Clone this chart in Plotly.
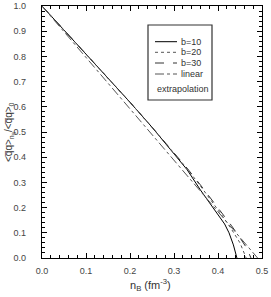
import plotly.graph_objects as go

# ---- data ----
x_b10 = [0.0, 0.05, 0.10, 0.15, 0.20, 0.25, 0.30, 0.33, 0.36, 0.38, 0.40, 0.415, 0.425, 0.435, 0.443]
y_b10 = [1.0, 0.905, 0.810, 0.714, 0.618, 0.519, 0.416, 0.350, 0.270, 0.222, 0.172, 0.135, 0.100, 0.052, 0.0]

x_b20 = [0.0, 0.05, 0.10, 0.15, 0.20, 0.25, 0.30, 0.33, 0.36, 0.39, 0.41, 0.43, 0.45, 0.464]
y_b20 = [1.0, 0.905, 0.810, 0.714, 0.618, 0.519, 0.418, 0.354, 0.286, 0.216, 0.167, 0.116, 0.060, 0.0]

x_b30 = [0.0, 0.05, 0.10, 0.15, 0.20, 0.25, 0.30, 0.33, 0.36, 0.39, 0.41, 0.43, 0.45, 0.465, 0.475]
y_b30 = [1.0, 0.905, 0.810, 0.714, 0.618, 0.519, 0.419, 0.356, 0.290, 0.223, 0.177, 0.130, 0.080, 0.040, 0.0]

x_lin = [0.0, 0.49]
y_lin = [1.0, 0.0]

legend_names = ["b=10", "b=20", "b=30", "linear"]
legend_extra = "extrapolation"

# ---- layout geometry ----
W, H = 271, 297
L, R, T, B = 42, 9, 6, 39
pw, ph = W - L - R, H - T - B

def px2paper(px, py):
    return (px - L) / pw, 1 - (py - T) / ph

styles = [
    dict(color="black", width=1, dash="solid"),
    dict(color="#555555", width=1, dash="dot"),
    dict(color="#333333", width=1, dash="dash"),
    dict(color="#555555", width=1, dash="dashdot"),
]

fig = go.Figure()
for xs, ys, nm, st in zip([x_b10, x_b20, x_b30, x_lin], [y_b10, y_b20, y_b30, y_lin], legend_names, styles):
    fig.add_trace(go.Scatter(x=xs, y=ys, mode="lines", name=nm, line=st, showlegend=False,
                             hoverinfo="skip"))

# manual legend
shapes = []
annotations = []
x0, y0 = px2paper(148, 25)
x1, y1 = px2paper(212, 100)
shapes.append(dict(type="rect", xref="paper", yref="paper", x0=x0, y0=y0, x1=x1, y1=y1,
                   line=dict(color="#333333", width=1.2), fillcolor="white", layer="above"))
rows = [41.7, 52.3, 63.0, 74.0]
for py, nm, st in zip(rows, legend_names, styles):
    a, b = px2paper(155, py)
    c, _ = px2paper(177, py)
    shapes.append(dict(type="line", xref="paper", yref="paper", x0=a, y0=b, x1=c, y1=b,
                       line=st, layer="above"))
    tx, ty = px2paper(179, py)
    annotations.append(dict(xref="paper", yref="paper", x=tx, y=ty, text=nm, showarrow=False,
                            xanchor="left", yanchor="middle", font=dict(size=9, color="#333333")))
tx, ty = px2paper(155, 89)
annotations.append(dict(xref="paper", yref="paper", x=tx, y=ty, text=legend_extra, showarrow=False,
                        xanchor="left", yanchor="middle", font=dict(size=9, color="#333333")))

# axis titles as annotations for exact placement
tx, ty = px2paper(150, 285)
annotations.append(dict(xref="paper", yref="paper", x=tx, y=ty, showarrow=False,
                        text="n<sub>B</sub> (fm<sup>-3</sup>)", xanchor="center", yanchor="middle",
                        font=dict(size=11, color="#333333")))
tx, ty = px2paper(10, 132)
annotations.append(dict(xref="paper", yref="paper", x=tx, y=ty, showarrow=False, textangle=-90,
                        text="&lt;q\u0305q&gt;<sub>n<sub>B</sub></sub>/&lt;q\u0305q&gt;<sub>0</sub>",
                        xanchor="center", yanchor="middle",
                        font=dict(size=10, color="#333333")))

axis_common = dict(
    showline=True, linecolor="black", linewidth=1.3, mirror="ticks",
    ticks="inside", ticklen=5, tickwidth=1, tickcolor="black",
    showgrid=False, zeroline=False, automargin=False,
    tickfont=dict(family="Liberation Sans, Arial", size=9, color="#444444"),
    minor=dict(ticks="inside", ticklen=3, tickwidth=1, tickcolor="black", dtick=0.02, showgrid=False),
)

fig.update_layout(
    width=W, height=H,
    margin=dict(l=L, r=R, t=T, b=B, autoexpand=False),
    paper_bgcolor="white", plot_bgcolor="white",
    font=dict(family="Liberation Sans, Arial", color="#333333"),
    xaxis=dict(range=[0, 0.5], dtick=0.1, tickformat=".1f", ticklabelstandoff=4, **axis_common),
    yaxis=dict(range=[0, 1.0], dtick=0.1, tickformat=".1f", ticklabelstandoff=13, **axis_common),
    shapes=shapes, annotations=annotations,
)

fig.write_html("out.html", config={"displayModeBar": False, "staticPlot": True},
               post_script="document.body.style.margin='0';document.body.style.overflow='hidden';")
